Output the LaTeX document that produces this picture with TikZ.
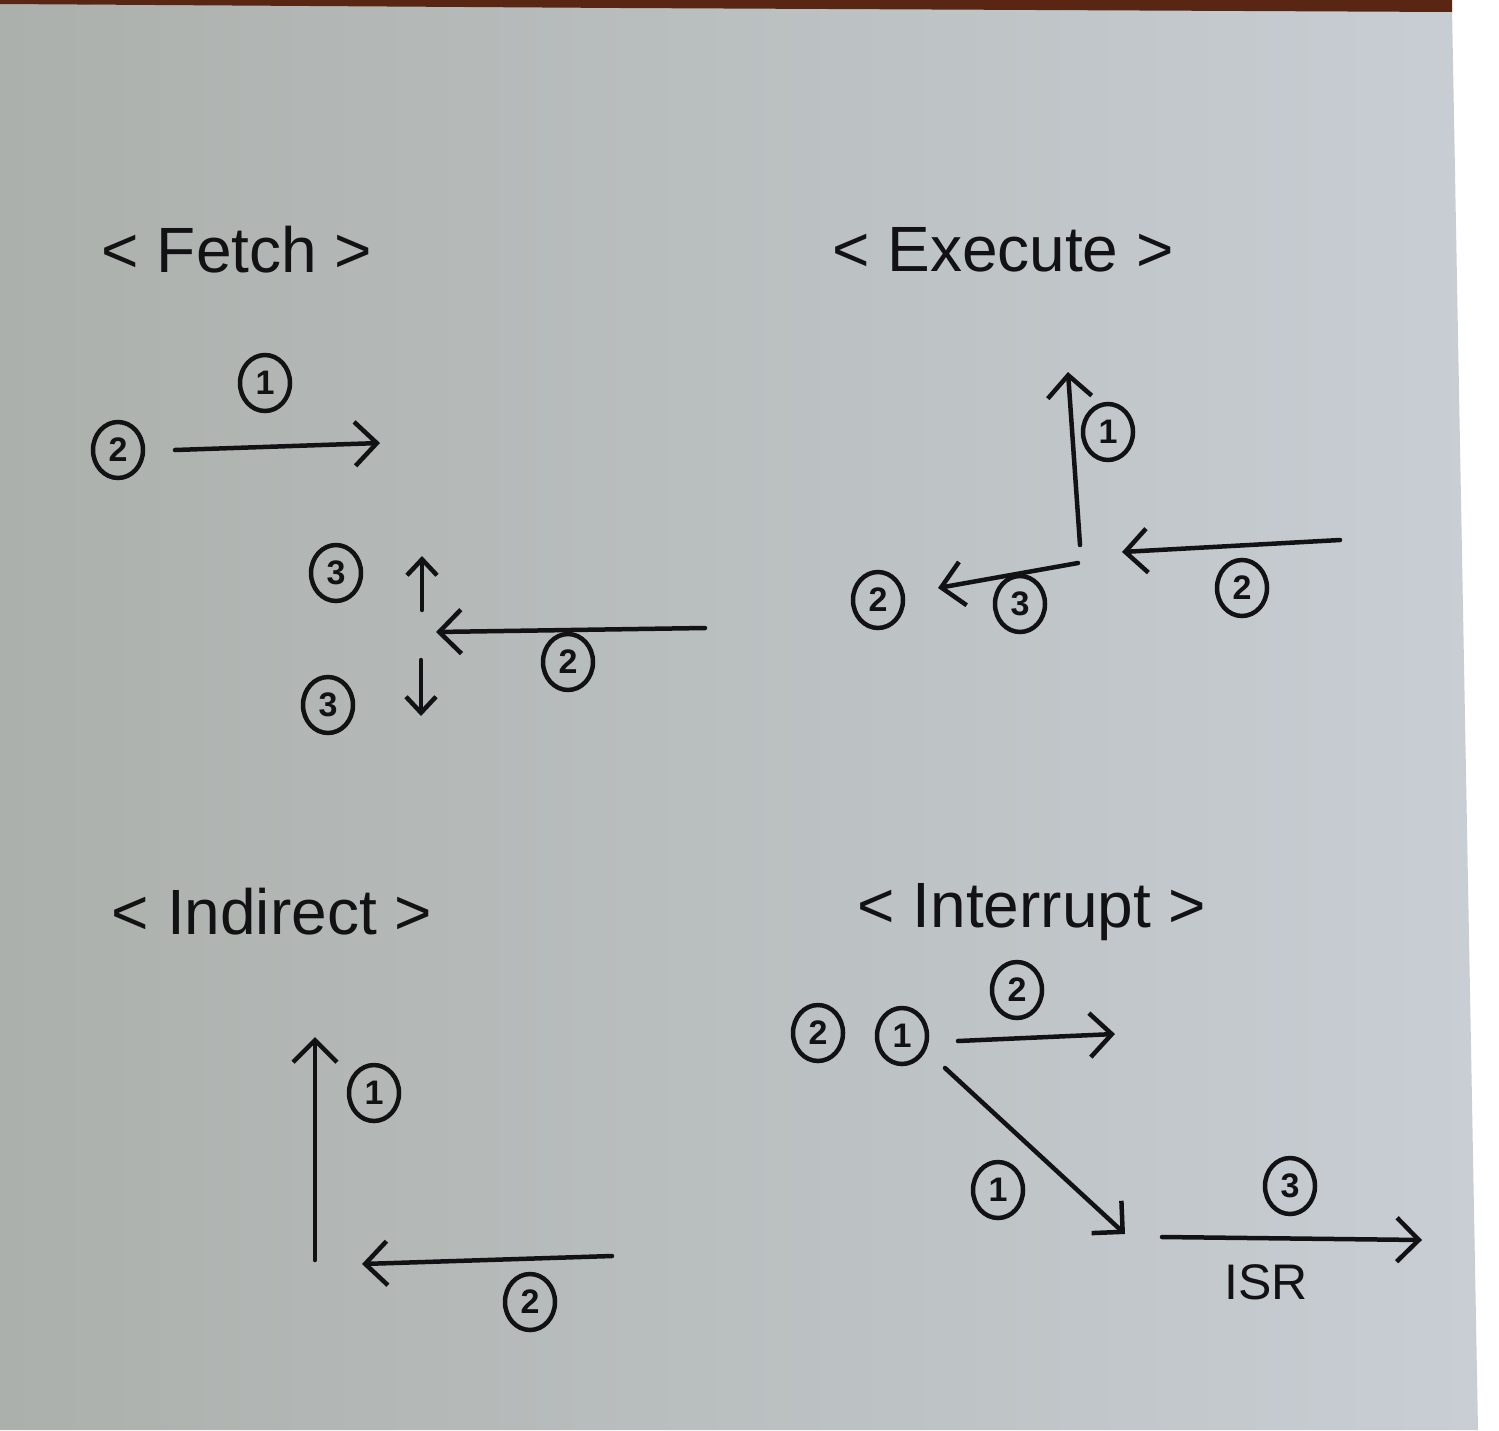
\documentclass[tikz,border=0pt]{standalone}
\usepackage{fontspec}
\setmainfont{Liberation Sans}
\usetikzlibrary{arrows.meta,shapes.geometric}
\definecolor{ink}{RGB}{18,18,20}
\definecolor{paperL}{RGB}{172,176,172}
\definecolor{paperR}{RGB}{200,206,212}
\definecolor{desk}{RGB}{88,38,18}
\begin{document}
\begin{tikzpicture}[x=1pt,y=-1pt,
  title/.style={text=ink,font=\fontsize{64}{72}\selectfont,inner sep=0pt},
  num/.style={draw=ink,line width=4.5pt,ellipse,minimum width=50pt,minimum height=56pt,inner sep=0pt,text=ink,font=\bfseries\fontsize{34}{38}\selectfont},
  flow/.style={draw=ink,line width=4.5pt,line cap=round,-{Straight Barb[length=22pt,width=44pt,line width=4.5pt]}},
  smallflow/.style={flow,-{Straight Barb[length=16pt,width=30pt,line width=4.5pt]}},
  note/.style={text=ink,font=\fontsize{50}{56}\selectfont,inner sep=0pt}
]
\useasboundingbox (0,0) rectangle (1499,1430);
% paper and background
\fill[white] (0,0) rectangle (1499,1430);
\shade[left color=paperL,right color=paperR] (0,4) -- (1452,8) -- (1478,1430) -- (0,1430) -- cycle;
\fill[desk] (0,0) -- (1452,0) -- (1452,12) -- (620,8) -- (0,4) -- cycle;

% ---------- Fetch ----------
\node[title] (tf) at (237,250) {< Fetch >};
\node[num] (f1) at (265,383) {1};
\node[num] (f2) at (118,450) {2};
\coordinate (f2s) at (175,450);
\coordinate (f2e) at (380,443);
\draw[flow] (f2s) -- (f2e);
\node[num] (f3a) at (336,573) {3};
\node[num] (f3b) at (328,705) {3};
\node[num] (f2b) at (568,662) {2};
\coordinate (fls) at (705,628);
\coordinate (fle) at (436,632);
\draw[flow] (fls) -- (fle);
\coordinate (fus) at (422,610);
\coordinate (fue) at (422,556);
\draw[smallflow] (fus) -- (fue);
\coordinate (fds) at (421,660);
\coordinate (fde) at (421,716);
\draw[smallflow] (fds) -- (fde);

% ---------- Execute ----------
\node[title] (te) at (1003,250) {< Execute >};
\coordinate (ej) at (1080,545);
\coordinate (eu) at (1068,372);
\draw[flow] (ej) -- (eu);
\node[num] (e1) at (1108,432) {1};
\coordinate (ers) at (1340,540);
\coordinate (ere) at (1122,552);
\draw[flow] (ers) -- (ere);
\node[num] (e2r) at (1242,588) {2};
\node[num] (e2l) at (878,600) {2};
\coordinate (els) at (1078,563);
\coordinate (ele) at (938,588);
\draw[flow] (els) -- (ele);
\node[num] (e3) at (1020,604) {3};

% ---------- Indirect ----------
\node[title] (ti) at (272,912) {< Indirect >};
\coordinate (ius) at (315,1260);
\coordinate (iue) at (315,1037);
\draw[flow] (ius) -- (iue);
\node[num] (i1) at (374,1093) {1};
\coordinate (ils) at (612,1256);
\coordinate (ile) at (362,1264);
\draw[flow] (ils) -- (ile);
\node[num] (i2) at (530,1302) {2};

% ---------- Interrupt ----------
\node[title] (tn) at (1032,912) {< Interrupt >};
\node[num] (n2) at (818,1033) {2};
\node[num] (n1) at (902,1036) {1};
\coordinate (nrs) at (958,1041);
\coordinate (nre) at (1115,1034);
\draw[flow] (nrs) -- (nre);
\node[num] (n2t) at (1017,990) {2};
\coordinate (nds) at (945,1068);
\coordinate (nde) at (1125,1234);
\draw[flow] (nds) -- (nde);
\node[num] (n1b) at (998,1190) {1};
\coordinate (nis) at (1162,1237);
\coordinate (nie) at (1422,1240);
\draw[flow] (nis) -- (nie);
\node[num] (n3) at (1290,1186) {3};
\node[note] (isr) at (1266,1282) {ISR};
\end{tikzpicture}
\end{document}
